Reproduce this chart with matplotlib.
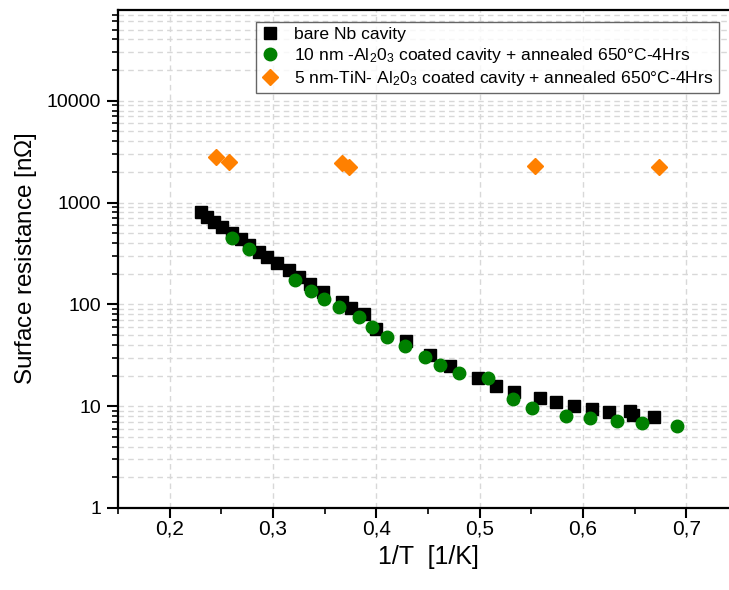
import numpy as np
import matplotlib
matplotlib.use('Agg')
import matplotlib.pyplot as plt
from matplotlib.ticker import FixedLocator, NullFormatter, LogLocator

plt.rcParams['font.family'] = ['Liberation Sans', 'DejaVu Sans']
plt.rcParams['mathtext.fontset'] = 'custom'
plt.rcParams['mathtext.rm'] = 'Liberation Sans'

# bare Nb cavity
nb_x = [0.230, 0.236, 0.243, 0.251, 0.260, 0.269, 0.277, 0.286, 0.294, 0.304,
        0.315, 0.325, 0.336, 0.348, 0.367, 0.375, 0.388, 0.400, 0.429, 0.452,
        0.471, 0.498, 0.516, 0.533, 0.558, 0.574, 0.591, 0.609, 0.625, 0.645,
        0.648, 0.669]
nb_y = [803, 727, 640, 571, 499, 436, 383, 330, 290, 254,
        218, 185, 157, 133, 106, 92, 80, 57, 44, 32,
        25, 19.1, 15.9, 13.9, 11.9, 10.9, 10.0, 9.3, 8.8, 9.0,
        8.2, 7.9]

# 10 nm Al2O3 coated cavity
al_x = [0.260, 0.277, 0.321, 0.337, 0.349, 0.364, 0.383, 0.396, 0.410, 0.428,
        0.447, 0.462, 0.480, 0.508, 0.532, 0.551, 0.584, 0.607, 0.633, 0.657,
        0.691]
al_y = [452, 348, 174, 136, 113, 94, 75, 60, 48, 39,
        30.6, 25.6, 21.3, 19.1, 11.7, 9.5, 8.0, 7.7, 7.2, 6.8,
        6.4]

# 5 nm TiN - Al2O3 coated cavity
tin_x = [0.245, 0.257, 0.367, 0.374, 0.554, 0.674]
tin_y = [2825, 2490, 2430, 2250, 2290, 2220]

xticks = [0.2, 0.3, 0.4, 0.5, 0.6, 0.7]
xtick_labels = ['0,2', '0,3', '0,4', '0,5', '0,6', '0,7']
yticks = [1, 10, 100, 1000, 10000]
ytick_labels = ['1', '10', '100', '1000', '10000']

fig = plt.figure(figsize=(7.29, 5.90), dpi=100)
ax = fig.add_axes([118 / 729, 82 / 590, 620 / 729, 498 / 590])

ax.plot(nb_x, nb_y, 's', color='black', markersize=8, linestyle='none',
        label='bare Nb cavity', zorder=3)
ax.plot(al_x, al_y, 'o', color='#008000', markersize=9, linestyle='none',
        label=r'10 nm -Al$\mathregular{_2}$0$\mathregular{_3}$ coated cavity + annealed 650°C-4Hrs',
        zorder=4)
ax.plot(tin_x, tin_y, 'D', color='#ff8000', markersize=8.5, linestyle='none',
        label=r'5 nm-TiN- Al$\mathregular{_2}$0$\mathregular{_3}$ coated cavity + annealed 650°C-4Hrs',
        zorder=3)

ax.set_yscale('log')
ax.set_xlim(0.15, 0.75)
ax.set_ylim(1, 10 ** 4.891)

ax.set_xticks(xticks)
ax.set_xticklabels(xtick_labels)
ax.xaxis.set_minor_locator(FixedLocator([0.15, 0.25, 0.35, 0.45, 0.55, 0.65, 0.75]))
ax.set_yticks(yticks)
ax.set_yticklabels(ytick_labels)
ax.yaxis.set_minor_locator(LogLocator(base=10, subs=np.arange(2, 10)))
ax.yaxis.set_minor_formatter(NullFormatter())

ax.tick_params(which='major', direction='out', length=8, width=1.5)
ax.tick_params(which='minor', direction='out', length=4, width=1.2)
ax.tick_params(axis='x', which='major', length=7, labelsize=15, pad=1)
ax.tick_params(axis='y', which='major', labelsize=14, pad=4)

ax.grid(True, which='major', axis='x', color='#d8d8d8', linestyle=(0, (4, 3)), linewidth=1)
ax.grid(True, which='both', axis='y', color='#d8d8d8', linestyle=(0, (4, 3)), linewidth=1)
ax.set_axisbelow(True)

for side in ['left', 'bottom', 'top', 'right']:
    ax.spines[side].set_linewidth(1.6)

ax.set_xlabel('1/T  [1/K]', fontsize=18, labelpad=5)
ax.set_ylabel(r'Surface resistance [n$\Omega$]', fontsize=17.5, labelpad=6)

leg = ax.legend(loc='upper left', bbox_to_anchor=(256 / 729, 1 - 22 / 590),
                bbox_transform=fig.transFigure, fontsize=12.6, frameon=True,
                fancybox=False, edgecolor='#404040', handletextpad=0.9,
                handlelength=1.0, borderpad=0.3, labelspacing=0.22, borderaxespad=0)
leg.get_frame().set_linewidth(1)

fig.savefig('out.png', dpi=100)
